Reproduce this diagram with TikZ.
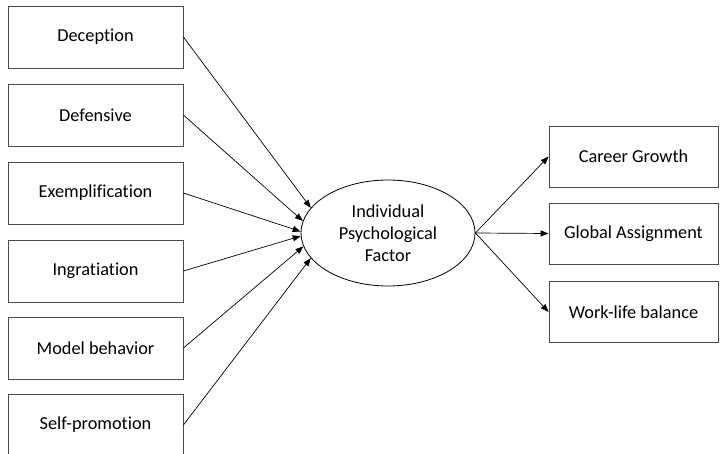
\documentclass[tikz,border=0pt]{standalone}
\usepackage{fontspec}
\setmainfont{Carlito}[Ligatures={NoCommon}]
\usetikzlibrary{shapes.geometric,arrows.meta}
\begin{document}
\begin{tikzpicture}[x=1pt,y=-1pt,
  lbox/.style={draw=black!70,line width=0.8pt,minimum width=175pt,minimum height=62pt,inner sep=0pt,font=\fontsize{18.3}{22}\selectfont},
  rbox/.style={lbox,minimum width=169pt,minimum height=61pt},
  ell/.style={ellipse,draw,line width=0.8pt,minimum width=174pt,minimum height=106pt,inner sep=0pt,align=center,font=\fontsize{18.3}{22}\selectfont},
  arr/.style={-{Triangle[length=8pt,width=6pt]},line width=0.7pt}]
\useasboundingbox (0,0) rectangle (720,454);
\node[lbox] (dec) at (95.5,37) {Deception};
\node[lbox] (def) at (95.5,115) {Defensive};
\node[lbox] (exe) at (95.5,193) {Exemplification};
\node[lbox] (ing) at (95.5,271) {Ingratiation};
\node[lbox] (mod) at (95.5,348) {Model behavior};
\node[lbox] (sel) at (95.5,425) {Self-promotion};
\node[ell] (ipf) at (388,233) {Individual\\Psychological\\Factor};
\node[rbox] (car) at (633.5,156.5) {Career Growth};
\node[rbox] (glo) at (633.5,233.5) {Global Assignment};
\node[rbox] (wor) at (633.5,312) {Work-life balance};
\draw[arr] (dec.east) -- (ipf.162);
\draw[arr] (def.east) -- (ipf.172);
\draw[arr] (exe.east) -- (ipf.179);
\draw[arr] (ing.east) -- (ipf.182);
\draw[arr] (mod.east) -- (ipf.189);
\draw[arr] (sel.east) -- (ipf.198);
\draw[arr] (ipf.east) -- (car.west);
\draw[arr] (ipf.east) -- (glo.west);
\draw[arr] (ipf.east) -- (wor.west);
\end{tikzpicture}
\end{document}
